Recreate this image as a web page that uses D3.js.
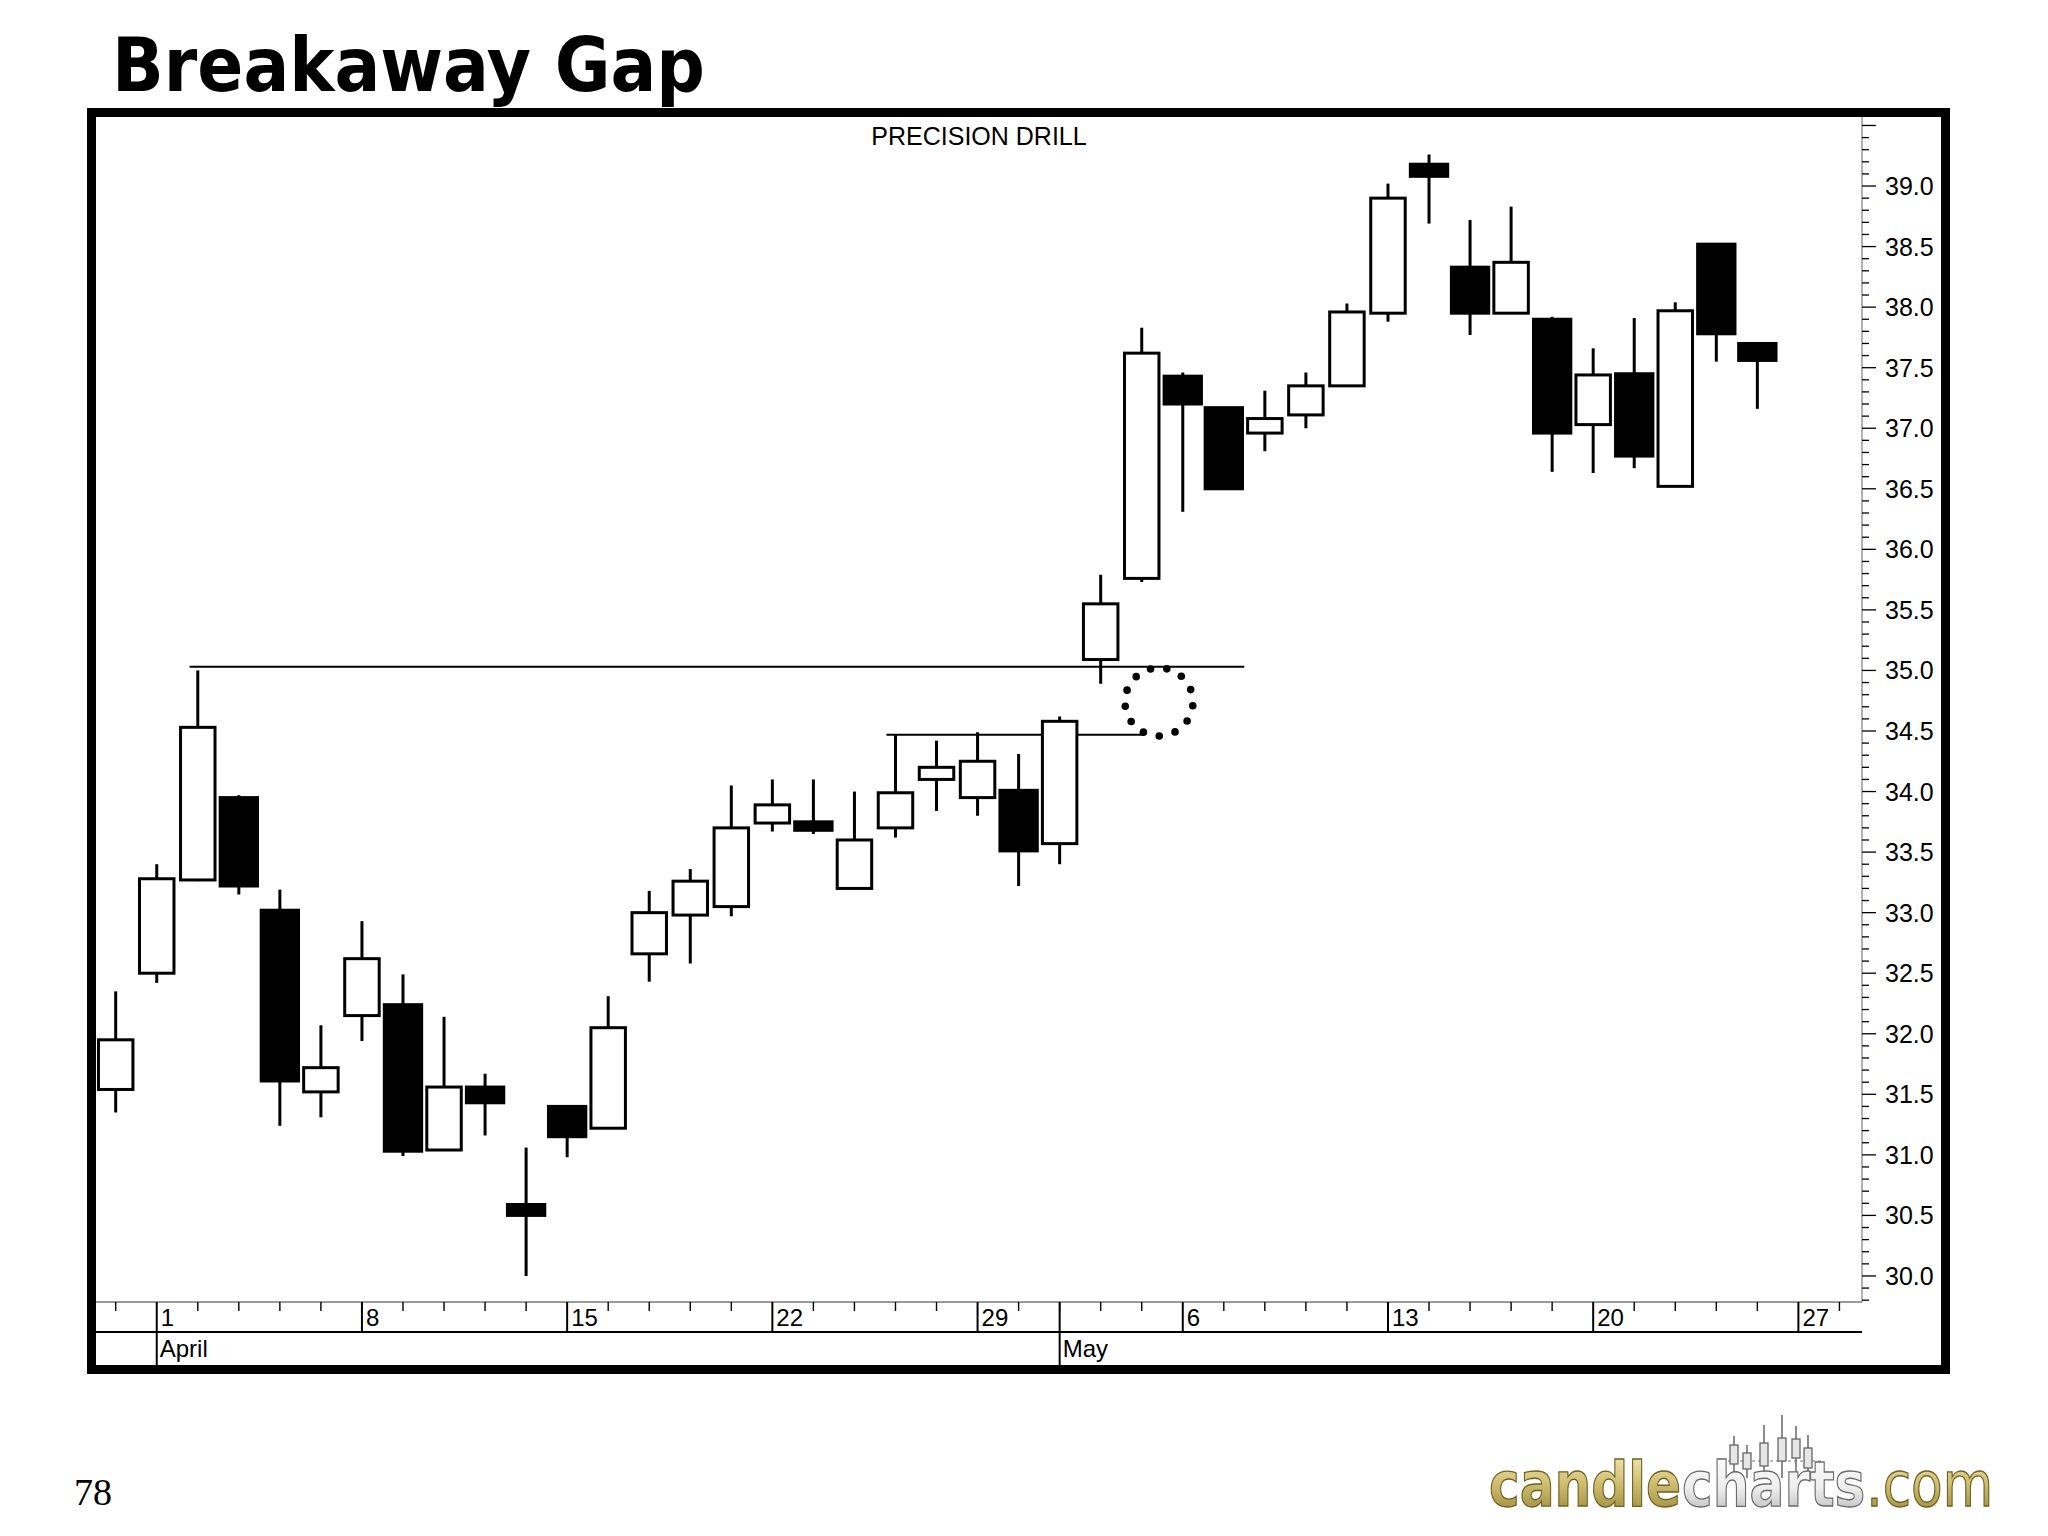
<!DOCTYPE html>
<html>
<head>
<meta charset="utf-8">
<script src="https://cdn.jsdelivr.net/npm/d3@7"></script>
<style>
  html, body { margin: 0; padding: 0; background: #fff; }
  svg { display: block; }
</style>
</head>
<body>
<script>
// ---------------- DATA ----------------
// Trading days shown on the axis (the last two carry no candles)
const dates = [
  "2002-03-28",
  "2002-04-01","2002-04-02","2002-04-03","2002-04-04","2002-04-05",
  "2002-04-08","2002-04-09","2002-04-10","2002-04-11","2002-04-12",
  "2002-04-15","2002-04-16","2002-04-17","2002-04-18","2002-04-19",
  "2002-04-22","2002-04-23","2002-04-24","2002-04-25","2002-04-26",
  "2002-04-29","2002-04-30","2002-05-01","2002-05-02","2002-05-03",
  "2002-05-06","2002-05-07","2002-05-08","2002-05-09","2002-05-10",
  "2002-05-13","2002-05-14","2002-05-15","2002-05-16","2002-05-17",
  "2002-05-20","2002-05-21","2002-05-22","2002-05-23","2002-05-24",
  "2002-05-27","2002-05-28"
];
const opens  = [31.54,32.50,33.27,33.95,33.02,31.52,32.15,32.24,31.04,31.56,30.59,31.40,31.22,32.66,32.98,33.05,33.74,33.75,33.20,33.70,34.10,33.95,34.01,33.57,35.09,35.76,37.43,37.17,36.96,37.11,37.35,37.95,39.18,38.33,37.95,37.90,37.03,37.45,36.52,38.52,37.70];
const highs  = [32.35,33.40,35.00,33.97,33.19,32.07,32.93,32.49,32.14,31.67,31.06,31.41,32.31,33.18,33.36,34.05,34.10,34.10,34.00,34.47,34.42,34.49,34.31,34.62,35.79,37.83,37.46,37.17,37.31,37.46,38.03,39.02,39.26,38.72,38.83,37.92,37.66,37.91,38.04,38.52,37.71];
const lows   = [31.35,32.42,33.26,33.15,31.24,31.31,31.94,30.99,31.04,31.16,30.00,30.98,31.22,32.43,32.58,32.97,33.67,33.65,33.20,33.62,33.84,33.80,33.22,33.40,34.89,35.73,36.31,36.50,36.81,37.00,37.35,37.88,38.69,37.77,37.95,36.64,36.63,36.67,36.52,37.55,37.16];
const closes = [31.95,33.28,34.53,33.22,31.61,31.72,32.62,31.03,31.56,31.43,30.50,31.15,32.05,33.00,33.26,33.70,33.89,33.68,33.60,33.99,34.20,34.25,33.51,34.58,35.55,37.62,37.20,36.50,37.08,37.35,37.96,38.90,39.08,37.95,38.37,36.96,37.44,36.77,37.97,37.78,37.56];

// price tick labels
const priceLabels = ["30.0","30.5","31.0","31.5","32.0","32.5","33.0","33.5","34.0","34.5","35.0","35.5","36.0","36.5","37.0","37.5","38.0","38.5","39.0"];
const monthNames = ["January","February","March","April","May","June","July","August","September","October","November","December"];

// annotation lines (start/end in trading-day index, price level)
const lineStarts = [1.8, 18.78];
const lineEnds   = [27.5, 25.03];
const lineLevels = [35.03, 34.47];
// the breakaway gap marker (trading-day index, price)
const gapMarkX = [25.42];
const gapMarkY = [34.74];

const chartTitle = "Breakaway Gap";
const chartSubtitle = "PRECISION DRILL";
const pageNumber = "78";
const logoParts = ["candle", "charts", ".com"];

// ---------------- LAYOUT ----------------
const W = 2048, H = 1536;
const svg = d3.select("body").append("svg").attr("width", W).attr("height", H);
const defs = svg.append("defs");

const frame = {x0: 91.5, y0: 112.5, x1: 1945.5, y1: 1369.5, sw: 9};
const plot = {left: 96, right: 1862, top: 117, bottom: 1302};
const dayRowBottom = 1332;
const sansFont = "'Liberation Sans', Arial, sans-serif";

const x = d3.scaleLinear().domain([-0.48, 42.55]).range([plot.left, plot.right]);
const y = d3.scaleLinear().domain([29.785, 39.57]).range([plot.bottom, plot.top]);
const step = x(1) - x(0);

// Title
svg.append("text")
  .attr("x", 112).attr("y", 91)
  .attr("font-family", "'DejaVu Sans', Verdana, sans-serif")
  .attr("font-weight", "bold")
  .attr("font-size", 75)
  .attr("textLength", 593)
  .attr("lengthAdjust", "spacingAndGlyphs")
  .attr("fill", "#000")
  .text(chartTitle);

// Plot content clip
defs.append("clipPath").attr("id", "plotClip")
  .append("rect").attr("x", plot.left).attr("y", plot.top)
  .attr("width", plot.right - plot.left).attr("height", plot.bottom - plot.top);

// subtitle
svg.append("text")
  .attr("x", (plot.left + plot.right) / 2).attr("y", 145)
  .attr("text-anchor", "middle")
  .attr("font-family", sansFont).attr("font-size", 25)
  .attr("fill", "#000")
  .text(chartSubtitle);

const gPlot = svg.append("g").attr("clip-path", "url(#plotClip)");

// Annotation horizontal lines
gPlot.selectAll("line.level").data(lineLevels).join("line")
  .attr("class", "level")
  .attr("x1", (d, i) => x(lineStarts[i]))
  .attr("x2", (d, i) => x(lineEnds[i]))
  .attr("y1", d => y(d)).attr("y2", d => y(d))
  .attr("stroke", "#000").attr("stroke-width", 2);

// Candles
const candles = d3.range(opens.length).map(i => ({
  i, o: opens[i], h: highs[i], l: lows[i], c: closes[i]
}));
const cg = gPlot.selectAll("g.candle").data(candles).join("g").attr("class", "candle");
cg.append("line")
  .attr("x1", d => x(d.i)).attr("x2", d => x(d.i))
  .attr("y1", d => y(d.h)).attr("y2", d => y(d.l))
  .attr("stroke", "#000").attr("stroke-width", 3);
cg.append("rect")
  .attr("x", d => x(d.i) - (d.c >= d.o ? step * 0.42 : step * 0.455))
  .attr("width", d => d.c >= d.o ? step * 0.84 : step * 0.91)
  .attr("y", d => y(Math.max(d.o, d.c)))
  .attr("height", d => Math.max(2, y(Math.min(d.o, d.c)) - y(Math.max(d.o, d.c))))
  .attr("fill", d => d.c >= d.o ? "#fff" : "#000")
  .attr("stroke", "#000").attr("stroke-width", 3);

// dotted circle marking the gap
const nDots = 13;
const dotR = 34;
gapMarkX.forEach((gx, k) => {
  const cx = x(gx), cy = y(gapMarkY[k]);
  const angles = d3.range(nDots).map(j => -Math.PI / 2 - 0.25 + j * 2 * Math.PI / nDots);
  gPlot.selectAll(null).data(angles).join("circle")
    .attr("cx", a => cx + dotR * Math.cos(a))
    .attr("cy", a => cy + dotR * Math.sin(a))
    .attr("r", 3.8).attr("fill", "#000");
});

// ---------------- Y AXIS ----------------
const yAxisG = svg.append("g");
yAxisG.append("line")
  .attr("x1", plot.right).attr("x2", plot.right)
  .attr("y1", plot.top).attr("y2", plot.bottom)
  .attr("stroke", "#9a9a9a").attr("stroke-width", 1.5);
const minorTicks = d3.range(298, 396).map(v => v / 10);
yAxisG.selectAll("line.minor").data(minorTicks).join("line")
  .attr("class", "minor")
  .attr("x1", plot.right).attr("x2", d => plot.right + (Math.round(d * 10) % 5 === 0 ? 14 : 7))
  .attr("y1", d => y(d)).attr("y2", d => y(d))
  .attr("stroke", "#000").attr("stroke-width", 1.3);
yAxisG.selectAll("text").data(priceLabels).join("text")
  .attr("x", plot.right + 23)
  .attr("y", d => y(+d))
  .attr("dy", "0.36em")
  .attr("font-family", sansFont).attr("font-size", 25)
  .attr("fill", "#000")
  .text(d => d);

// ---------------- X AXIS ----------------
const parse = d3.timeParse("%Y-%m-%d");
const dObjs = dates.map(parse);
const xAxisG = svg.append("g");
xAxisG.append("line")
  .attr("x1", plot.left).attr("x2", plot.right)
  .attr("y1", plot.bottom).attr("y2", plot.bottom)
  .attr("stroke", "#9a9a9a").attr("stroke-width", 1.8);
xAxisG.append("line")
  .attr("x1", plot.left).attr("x2", plot.right)
  .attr("y1", dayRowBottom).attr("y2", dayRowBottom)
  .attr("stroke", "#000").attr("stroke-width", 2);

const isMonday = (d) => d.getDay() === 1;
const isMonthStart = (d, i) => i > 0 && d.getMonth() !== dObjs[i - 1].getMonth();

dObjs.forEach((d, i) => {
  const xi = x(i);
  if (isMonthStart(d, i)) {
    xAxisG.append("line")
      .attr("x1", xi).attr("x2", xi).attr("y1", plot.bottom).attr("y2", frame.y1 - frame.sw / 2)
      .attr("stroke", "#000").attr("stroke-width", 2);
    xAxisG.append("text")
      .attr("x", xi + 3).attr("y", 1357)
      .attr("font-family", sansFont).attr("font-size", 24).attr("fill", "#000")
      .text(monthNames[d.getMonth()]);
  }
  if (isMonday(d)) {
    if (!isMonthStart(d, i)) {
      xAxisG.append("line")
        .attr("x1", xi).attr("x2", xi).attr("y1", plot.bottom).attr("y2", dayRowBottom)
        .attr("stroke", "#000").attr("stroke-width", 2);
    }
    xAxisG.append("text")
      .attr("x", xi + 4).attr("y", 1326)
      .attr("font-family", sansFont).attr("font-size", 24).attr("fill", "#000")
      .text(d.getDate());
  } else {
    xAxisG.append("line")
      .attr("x1", xi).attr("x2", xi).attr("y1", plot.bottom).attr("y2", plot.bottom + 9)
      .attr("stroke", "#000").attr("stroke-width", 1.4);
  }
});

// ---------------- FRAME ----------------
svg.append("rect")
  .attr("x", frame.x0).attr("y", frame.y0)
  .attr("width", frame.x1 - frame.x0).attr("height", frame.y1 - frame.y0)
  .attr("fill", "none").attr("stroke", "#000").attr("stroke-width", frame.sw);

// ---------------- PAGE NUMBER ----------------
svg.append("text")
  .attr("x", 74).attr("y", 1505)
  .attr("font-family", "'Liberation Serif', 'Times New Roman', serif")
  .attr("font-size", 38).attr("fill", "#000")
  .text(pageNumber);

// ---------------- LOGO ----------------
const gold = defs.append("linearGradient").attr("id", "gold").attr("x1", 0).attr("y1", 0).attr("x2", 0).attr("y2", 1);
gold.append("stop").attr("offset", "0%").attr("stop-color", "#f6efc0");
gold.append("stop").attr("offset", "45%").attr("stop-color", "#d3c275");
gold.append("stop").attr("offset", "100%").attr("stop-color", "#958334");
const silver = defs.append("linearGradient").attr("id", "silver").attr("x1", 0).attr("y1", 0).attr("x2", 0).attr("y2", 1);
silver.append("stop").attr("offset", "0%").attr("stop-color", "#ffffff");
silver.append("stop").attr("offset", "55%").attr("stop-color", "#eeeeee");
silver.append("stop").attr("offset", "100%").attr("stop-color", "#b0b0b0");

const logo = svg.append("g");
// little candles above "charts"
const logoCandleOffsets = [0, 13, 30, 48, 62, 74];
const logoWick = [-50, -41, -61, -71, -60, -51];
const logoBodyTop = [-41, -33, -43, -48, -47, -38];
const logoBodyBot = [-22, -17, -20, -25, -28, -18];
const logoBase = 1486;
logo.append("line")
  .attr("x1", 1722).attr("x2", 1822).attr("y1", logoBase - 25).attr("y2", logoBase - 25)
  .attr("stroke", "#777").attr("stroke-width", 1.2).attr("stroke-dasharray", "3,3");
logoCandleOffsets.forEach((o, k) => {
  const cx = 1734 + o;
  logo.append("line").attr("x1", cx).attr("x2", cx)
    .attr("y1", logoBase + logoWick[k]).attr("y2", logoBase - 8)
    .attr("stroke", "#666").attr("stroke-width", 1.5);
  logo.append("rect").attr("x", cx - 4).attr("width", 8)
    .attr("y", logoBase + logoBodyTop[k]).attr("height", logoBodyBot[k] - logoBodyTop[k])
    .attr("fill", "#e6e6e6").attr("stroke", "#666").attr("stroke-width", 1.3);
});
// three separate words placed one after another, scaled to the logo width
const logoFill = ["url(#gold)", "url(#silver)", "url(#gold)"];
const logoStroke = ["#6e6222", "#6a6a6a", "#6e6222"];
const logoWeight = ["bold", "bold", "normal"];
const logoG2 = logo.append("g");
let cursor = 0;
const logoTexts = logoParts.map((t, k) => {
  const el = logoG2.append("text")
    .attr("x", cursor).attr("y", 0)
    .attr("font-family", "'DejaVu Sans', Verdana, sans-serif")
    .attr("font-size", 62)
    .attr("font-weight", logoWeight[k])
    .attr("fill", logoFill[k]).attr("stroke", logoStroke[k]).attr("stroke-width", 1.3)
    .text(t);
  cursor += el.node().getComputedTextLength() + 1;
  return el;
});
const sx = 505 / cursor;
logoG2.attr("transform", `translate(1489,1506) scale(${sx},1)`);
</script>
</body>
</html>
